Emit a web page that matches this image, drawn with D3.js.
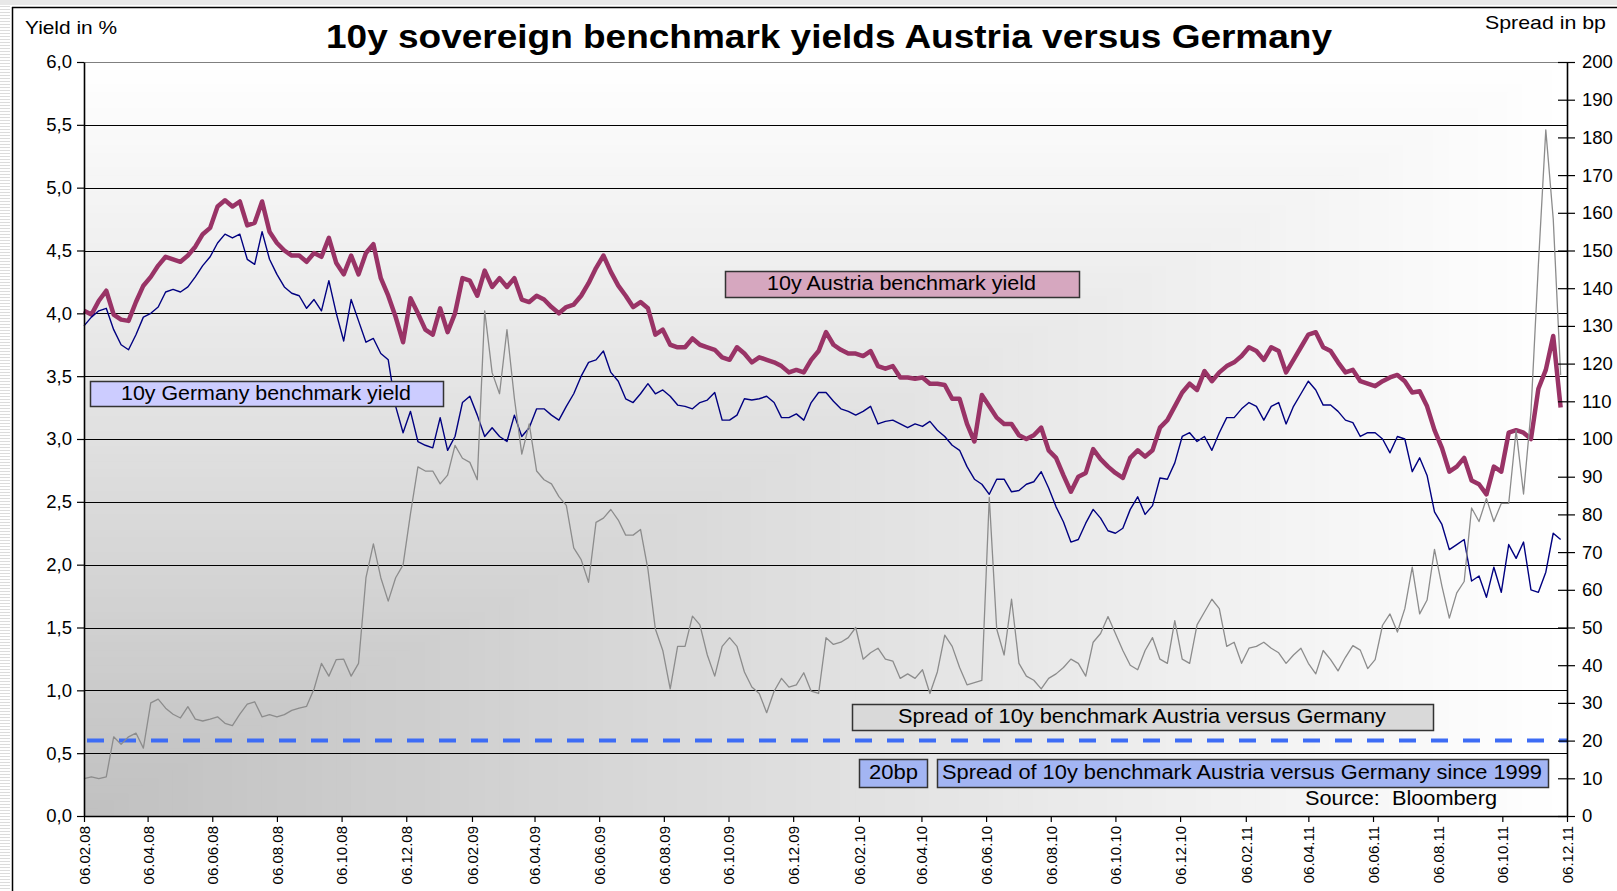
<!DOCTYPE html>
<html>
<head>
<meta charset="utf-8">
<script src="https://cdn.jsdelivr.net/npm/d3@7"></script>
<style>
  html, body { margin: 0; padding: 0; background: #fff; }
  svg { display: block; font-family: "Liberation Sans", Arial, sans-serif; }
</style>
</head>
<body>
<svg id="chart" width="1617" height="891"></svg>
<script>
// ---------------- data (weekly readings starting 06.02.2008) ----------------
const startDate = "2008-02-06";
const stepDays = 7;

const tickLabels = ["06.02.08","06.04.08","06.06.08","06.08.08","06.10.08","06.12.08",
  "06.02.09","06.04.09","06.06.09","06.08.09","06.10.09","06.12.09",
  "06.02.10","06.04.10","06.06.10","06.08.10","06.10.10","06.12.10",
  "06.02.11","06.04.11","06.06.11","06.08.11","06.10.11","06.12.11"];

const leftTicks = [0,0.5,1,1.5,2,2.5,3,3.5,4,4.5,5,5.5,6];
const rightTicks = [0,10,20,30,40,50,60,70,80,90,100,110,120,130,140,150,160,170,180,190,200];

// 10y Austria benchmark yield (%)
const austria = [
4.02,3.99,4.10,4.18,3.99,3.95,3.94,4.09,4.22,4.29,
4.38,4.45,4.43,4.41,4.46,4.53,4.63,4.68,4.85,4.90,
4.85,4.89,4.70,4.72,4.89,4.65,4.56,4.50,4.46,4.46,
4.41,4.48,4.45,4.60,4.40,4.31,4.46,4.31,4.48,4.55,
4.28,4.14,3.97,3.77,4.12,4.00,3.87,3.83,4.04,3.85,
4.00,4.28,4.26,4.14,4.34,4.21,4.28,4.21,4.28,4.11,
4.09,4.14,4.11,4.05,4.00,4.05,4.07,4.14,4.24,4.36,
4.46,4.33,4.22,4.14,4.05,4.09,4.04,3.83,3.87,3.75,
3.73,3.73,3.80,3.75,3.73,3.71,3.65,3.63,3.73,3.68,
3.61,3.65,3.63,3.61,3.58,3.53,3.55,3.53,3.63,3.70,
3.85,3.75,3.71,3.68,3.68,3.66,3.70,3.58,3.56,3.58,
3.49,3.49,3.48,3.49,3.44,3.44,3.43,3.32,3.32,3.12,
2.98,3.35,3.26,3.17,3.12,3.12,3.03,3.00,3.03,3.09,
2.91,2.85,2.71,2.58,2.70,2.73,2.92,2.84,2.78,2.73,
2.69,2.85,2.91,2.86,2.91,3.09,3.15,3.26,3.37,3.44,
3.39,3.54,3.46,3.53,3.58,3.61,3.66,3.73,3.70,3.63,
3.73,3.70,3.53,3.63,3.73,3.83,3.85,3.73,3.70,3.61,
3.53,3.55,3.46,3.44,3.42,3.46,3.49,3.51,3.46,3.37,
3.38,3.26,3.07,2.93,2.74,2.78,2.85,2.67,2.64,2.56,
2.78,2.74,3.05,3.07,3.05,3.00,3.40,3.55,3.82,3.25];

// 10y Germany benchmark yield (%)
const germany = [
3.90,3.97,4.02,4.04,3.87,3.75,3.71,3.83,3.97,4.00,
4.05,4.17,4.19,4.17,4.21,4.29,4.38,4.45,4.56,4.63,
4.60,4.63,4.43,4.39,4.65,4.43,4.31,4.21,4.16,4.14,
4.04,4.11,4.02,4.26,4.00,3.78,4.11,3.94,3.77,3.80,
3.68,3.63,3.26,3.05,3.22,2.98,2.95,2.93,3.17,2.91,
3.02,3.29,3.34,3.19,3.02,3.09,3.02,2.98,3.19,3.02,
3.09,3.24,3.24,3.19,3.15,3.26,3.36,3.50,3.61,3.63,
3.70,3.53,3.46,3.32,3.29,3.36,3.44,3.36,3.39,3.34,
3.27,3.26,3.24,3.29,3.31,3.37,3.15,3.15,3.19,3.32,
3.31,3.32,3.34,3.29,3.17,3.17,3.20,3.15,3.29,3.37,
3.37,3.30,3.24,3.22,3.19,3.22,3.26,3.12,3.14,3.15,
3.12,3.09,3.12,3.10,3.14,3.07,3.02,2.95,2.91,2.78,
2.68,2.64,2.56,2.68,2.68,2.58,2.59,2.64,2.66,2.74,
2.61,2.46,2.34,2.18,2.20,2.33,2.44,2.37,2.27,2.25,
2.29,2.44,2.54,2.40,2.47,2.69,2.68,2.81,3.02,3.05,
2.98,3.02,2.91,3.05,3.17,3.17,3.24,3.29,3.26,3.15,
3.26,3.29,3.12,3.26,3.36,3.46,3.39,3.27,3.27,3.22,
3.15,3.13,3.02,3.05,3.05,3.00,2.89,3.02,3.00,2.74,
2.85,2.71,2.42,2.32,2.12,2.16,2.20,1.87,1.91,1.74,
1.98,1.78,2.16,2.05,2.18,1.80,1.78,1.94,2.25,2.20];

// Spread of 10y benchmark Austria versus Germany (bp, right axis)
const spread = [
9.9,10.4,9.9,10.4,21,19,21,22,18,30,
31,28.6,27,26,29,25.7,25.2,25.7,26.3,24.6,
24,27,29.7,30.3,26.3,26.9,26.3,26.9,28,28.6,
29.1,33.7,40.5,37.1,41.5,41.6,37.1,40.5,63.2,72.2,
63.2,57,63.2,66.6,80.2,92.6,91.5,91.5,88.1,90.4,
98.3,94.9,93.8,89.2,134,117.6,112,129,110.8,96,
104,91.5,89.2,88.1,84.7,82.4,71.1,68,62,77.9,
79,81.3,78.5,74.5,74.5,76,65.4,49.6,43.9,33.7,
45,45,53,50.7,42.7,37.1,45,47.3,45,38.2,
34.2,32.5,27.4,33.1,36.5,34.2,34.8,38,33.1,32.5,
47.3,45.5,46.1,47.3,50,41.6,43.3,44.5,41.6,41.1,
36.5,37.7,36.5,38.8,32.5,38.2,48,45,39.4,34.8,
35.4,36,84.5,49.6,42.7,57.5,40.5,37.1,36,33.7,
36.5,37.7,39.4,41.6,40.5,37.1,46.1,48.4,52.9,48.4,
43.9,40,38.8,43.9,47.3,41.6,40.5,51.8,41.6,40.5,
50.7,54.1,57.5,55,45,46.1,40.5,44.5,45,46.1,
44.5,43.3,40.5,42.7,44.5,40.5,37.7,43.9,41.5,38.5,
42.1,45.2,44,39.1,41.5,50.6,53.6,48.8,55,66,
53.6,57.3,70.7,61,52.5,59.2,62.2,81.7,78.1,84.2,
78.1,82.9,82.9,102.3,85.4,107.2,146.2,182,158.4,117];

const thresholdBp = 20;

// ---------------- drawing ----------------
const svg = d3.select("#chart");
const L = 84, R = 1567, T = 62, B = 816;

const parseTick = d3.timeParse("%d.%m.%y");
const tickDates = tickLabels.map(parseTick);
const start = d3.timeParse("%Y-%m-%d")(startDate);
const dates = austria.map((_, i) => d3.timeDay.offset(start, stepDays * i));

const x = d3.scaleTime().domain([tickDates[0], tickDates[tickDates.length - 1]]).range([L, R]);
const yL = d3.scaleLinear().domain([0, 6]).range([B, T]);
const yR = d3.scaleLinear().domain([0, 200]).range([B, T]);

// sheet decoration: striped left margin, top band, frame
const deco = svg.append("g");
deco.append("rect").attr("x", 0).attr("y", 0).attr("width", 1617).attr("height", 5).attr("fill", "#e8e8e8");
deco.selectAll("line.stripe").data(d3.range(6, 891, 3)).join("line")
  .attr("x1", 0).attr("x2", 10).attr("y1", d => d + 0.5).attr("y2", d => d + 0.5)
  .attr("stroke", "#dcdcdc").attr("stroke-width", 1);
deco.append("line").attr("x1", 12).attr("x2", 1617).attr("y1", 7.5).attr("y2", 7.5).attr("stroke", "#000").attr("stroke-width", 1.5);
deco.append("line").attr("x1", 12.5).attr("x2", 12.5).attr("y1", 7).attr("y2", 891).attr("stroke", "#000").attr("stroke-width", 1.5);

// plot background: corner gradient (grey at bottom-left to white)
const steps = d3.range(100, 0, -1).map(k => k / 100);
const bgColor = d3.interpolateRgb("#c0c0c0", "#ffffff");
svg.append("g").selectAll("rect").data(steps).join("rect")
  .attr("x", L).attr("y", t => B - t * (B - T))
  .attr("width", t => t * (R - L)).attr("height", t => t * (B - T))
  .attr("fill", t => bgColor(t));

// horizontal gridlines
svg.append("g").selectAll("line").data(leftTicks.filter(v => v > 0)).join("line")
  .attr("x1", L).attr("x2", R)
  .attr("y1", d => Math.round(yL(d)) + 0.5).attr("y2", d => Math.round(yL(d)) + 0.5)
  .attr("stroke", d => d === 6 ? "#808080" : "#000").attr("stroke-width", 1);

// 20bp threshold dashed line
svg.append("line")
  .attr("x1", L + 3).attr("x2", R).attr("y1", yR(thresholdBp)).attr("y2", yR(thresholdBp))
  .attr("stroke", "#3d6cf5").attr("stroke-width", 4).attr("stroke-dasharray", "17,15");

// series
const lineL = d3.line().x((d, i) => x(dates[i])).y(d => yL(d));
const lineR = d3.line().x((d, i) => x(dates[i])).y(d => yR(d));

svg.append("path").datum(austria).attr("d", lineL)
  .attr("fill", "none").attr("stroke", "#993366").attr("stroke-width", 4.5).attr("stroke-linejoin", "round");
svg.append("path").datum(germany).attr("d", lineL)
  .attr("fill", "none").attr("stroke", "#000080").attr("stroke-width", 1.4).attr("stroke-linejoin", "round");
svg.append("path").datum(spread).attr("d", lineR)
  .attr("fill", "none").attr("stroke", "#8c8c8c").attr("stroke-width", 1.3).attr("stroke-linejoin", "round");

// axes
const axL = svg.append("g").attr("transform", `translate(${L},0)`)
  .call(d3.axisLeft(yL).tickValues(leftTicks).tickSize(7).tickSizeOuter(0)
    .tickFormat(d => d.toFixed(1).replace(".", ",")));
axL.select(".domain").attr("stroke", "#000").attr("stroke-width", 1.6);
axL.selectAll(".tick line").attr("stroke", "#000").attr("stroke-width", 1.2);
axL.selectAll(".tick text").attr("x", -12).attr("font-size", 18.5).attr("fill", "#000")
  .attr("font-family", "'Liberation Sans', Arial, sans-serif");

const axR = svg.append("g").attr("transform", `translate(${R},0)`)
  .call(d3.axisRight(yR).tickValues(rightTicks).tickSize(8).tickSizeOuter(0));
axR.select(".domain").attr("stroke", "#000").attr("stroke-width", 1.6);
axR.selectAll(".tick line").attr("x1", -9).attr("stroke", "#000").attr("stroke-width", 1.2);
axR.selectAll(".tick text").attr("x", 15).attr("font-size", 18.5).attr("fill", "#000")
  .attr("font-family", "'Liberation Sans', Arial, sans-serif");

const axB = svg.append("g").attr("transform", `translate(0,${B})`)
  .call(d3.axisBottom(x).tickValues(tickDates).tickSize(6).tickSizeOuter(0)
    .tickFormat(d3.timeFormat("%d.%m.%y")));
axB.select(".domain").attr("stroke", "#000").attr("stroke-width", 1.6);
axB.selectAll(".tick line").attr("stroke", "#000").attr("stroke-width", 1.2);
axB.selectAll(".tick text")
  .attr("transform", "rotate(-90)").attr("x", -10).attr("y", 0).attr("dy", "0.36em")
  .style("text-anchor", "end").attr("font-size", 15).attr("fill", "#000")
  .attr("font-family", "'Liberation Sans', Arial, sans-serif");

// titles
svg.append("text").attr("x", 326).attr("y", 48)
  .attr("font-size", 33).attr("font-weight", "bold").attr("textLength", 1006).attr("lengthAdjust", "spacingAndGlyphs")
  .text("10y sovereign benchmark yields Austria versus Germany");
svg.append("text").attr("x", 25).attr("y", 34).attr("font-size", 18.5)
  .attr("textLength", 92).attr("lengthAdjust", "spacingAndGlyphs").text("Yield in %");
svg.append("text").attr("x", 1485).attr("y", 29).attr("font-size", 18.5)
  .attr("textLength", 121).attr("lengthAdjust", "spacingAndGlyphs").text("Spread in bp");

// label boxes
const boxes = [
  {x: 725, y: 271, w: 354, h: 26, fill: "#d6a7bf", stroke: "#333", text: "10y Austria benchmark yield", tx: 767, tw: 269, ty: 290},
  {x: 90, y: 381, w: 353, h: 25, fill: "#ccccff", stroke: "#333", text: "10y Germany benchmark yield", tx: 121, tw: 290, ty: 400},
  {x: 852, y: 704, w: 581, h: 26, fill: "#d9d9d9", stroke: "#333", text: "Spread of 10y benchmark Austria versus Germany", tx: 898, tw: 488, ty: 723},
  {x: 859, y: 759, w: 68, h: 28, fill: "#a3b5f3", stroke: "#333", text: "20bp", tx: 869, tw: 49, ty: 779},
  {x: 937, y: 759, w: 611, h: 28, fill: "#a3b5f3", stroke: "#333", text: "Spread of 10y benchmark Austria versus Germany since 1999", tx: 942, tw: 600, ty: 779}
];
const bg = svg.append("g").selectAll("g").data(boxes).join("g");
bg.append("rect").attr("x", d => d.x + 0.5).attr("y", d => d.y + 0.5).attr("width", d => d.w).attr("height", d => d.h)
  .attr("fill", d => d.fill).attr("stroke", d => d.stroke).attr("stroke-width", 1.5);
bg.append("text").attr("x", d => d.tx).attr("y", d => d.ty).attr("font-size", 19.5)
  .attr("textLength", d => d.tw).attr("lengthAdjust", "spacingAndGlyphs").text(d => d.text);

svg.append("text").attr("x", 1305).attr("y", 805).attr("font-size", 19.5).style("white-space", "pre")
  .attr("textLength", 192).attr("lengthAdjust", "spacingAndGlyphs").text("Source:  Bloomberg");
</script>
</body>
</html>
